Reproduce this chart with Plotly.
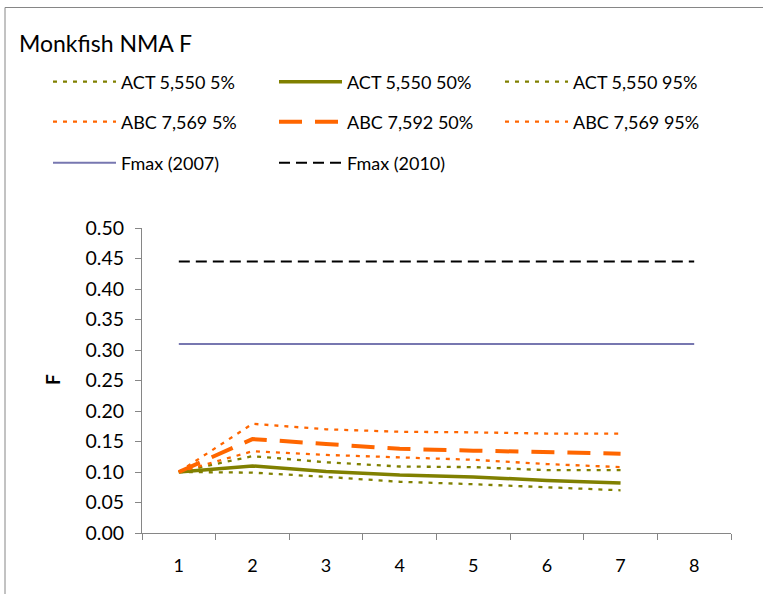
import plotly.graph_objects as go

W, H = 763, 594

categories = ["1", "2", "3", "4", "5", "6", "7", "8"]
data_cats = categories[:7]

act_5 = [0.100, 0.099, 0.092, 0.084, 0.080, 0.075, 0.070]
act_50 = [0.100, 0.110, 0.101, 0.095, 0.092, 0.086, 0.082]
act_95 = [0.100, 0.126, 0.116, 0.109, 0.108, 0.103, 0.103]
abc_5 = [0.100, 0.134, 0.128, 0.124, 0.120, 0.113, 0.108]
abc_50 = [0.100, 0.154, 0.146, 0.138, 0.135, 0.132, 0.130]
abc_95 = [0.100, 0.179, 0.170, 0.166, 0.165, 0.163, 0.163]
fmax_2007 = [0.31] * 8
fmax_2010 = [0.445] * 8

y_ticks = [0.00, 0.05, 0.10, 0.15, 0.20, 0.25, 0.30, 0.35, 0.40, 0.45, 0.50]

OLIVE = "#808000"
ORANGE = "#FF6600"
SLATE = "#7777B0"
FONT = "Lato"

DOT = "4px,6px"

series = [
    ("ACT 5,550 5%", data_cats, act_5, OLIVE, 2.3, DOT, "legend"),
    ("ACT 5,550 50%", data_cats, act_50, OLIVE, 3.5, "solid", "legend"),
    ("ACT 5,550 95%", data_cats, act_95, OLIVE, 2.3, DOT, "legend"),
    ("ABC 7,569 5%", data_cats, abc_5, ORANGE, 2.3, DOT, "legend2"),
    ("ABC 7,592 50%", data_cats, abc_50, ORANGE, 4, "23px,13px", "legend2"),
    ("ABC 7,569 95%", data_cats, abc_95, ORANGE, 2.3, DOT, "legend2"),
    ("Fmax (2007)", categories, fmax_2007, SLATE, 2, "solid", "legend3"),
    ("Fmax (2010)", categories, fmax_2010, "black", 2, "11px,6px", "legend3"),
]

fig = go.Figure()
for name, xs, ys, col, wd, dash, lg in series:
    fig.add_trace(go.Scatter(
        x=xs, y=ys, name=name, mode="lines",
        line=dict(color=col, width=wd, dash=dash),
        legend=lg, hoverinfo="skip",
    ))

L, R, T, B = 142, 731, 228, 533
PW, PH = R - L, B - T


def px_x(x):
    return (x - L) / PW


def px_y(y):
    return (B - y) / PH


def legend_cfg(ypx):
    return dict(
        orientation="h", xref="paper", yref="paper",
        x=px_x(48), y=px_y(ypx), xanchor="left", yanchor="middle",
        itemwidth=63, entrywidth=148, entrywidthmode="pixels",
        font=dict(family=FONT, size=18, color="black"),
        bgcolor="rgba(0,0,0,0)", borderwidth=0,
    )


fig.update_layout(
    width=W, height=H,
    margin=dict(l=L, r=W - R, t=T, b=H - B),
    paper_bgcolor="white", plot_bgcolor="white",
    font=dict(family=FONT, size=18, color="black"),
    legend=legend_cfg(82),
    legend2=legend_cfg(122),
    legend3=legend_cfg(163),
    xaxis=dict(
        type="category", categoryorder="array", categoryarray=categories,
        range=[-0.5, 7.5], tickson="boundaries",
        ticks="outside", ticklen=6, tickcolor="#868686",
        showline=True, linecolor="#868686", linewidth=1,
        showgrid=False, zeroline=False,
        tickfont=dict(family=FONT, size=18, color="black"),
        ticklabelstandoff=16,
    ),
    yaxis=dict(
        range=[0, 0.5], tickvals=y_ticks, tickformat=".2f",
        ticks="outside", ticklen=6, tickcolor="#868686",
        showline=True, linecolor="#868686", linewidth=1,
        showgrid=False, zeroline=False,
        tickfont=dict(family=FONT, size=19.5, color="black"),
        ticklabelstandoff=7,
    ),
    annotations=[
        dict(text="Monkfish NMA F", xref="paper", yref="paper",
             x=px_x(17), y=px_y(43),
             xanchor="left", yanchor="middle", showarrow=False,
             font=dict(family=FONT, size=23, color="black")),
        dict(text="<b>F</b>", xref="paper", yref="paper",
             x=px_x(52), y=px_y(380),
             xanchor="center", yanchor="middle", showarrow=False,
             textangle=-90,
             font=dict(family=FONT, size=19, color="black")),
    ],
    shapes=[
        dict(type="rect", xref="paper", yref="paper",
             x0=px_x(5), x1=px_x(770),
             y0=px_y(600), y1=px_y(7.5),
             line=dict(color="#868686", width=1), layer="below"),
    ],
)

fig.write_html("out.html", config={"displayModeBar": False},
               post_script="document.body.style.margin='0';")
